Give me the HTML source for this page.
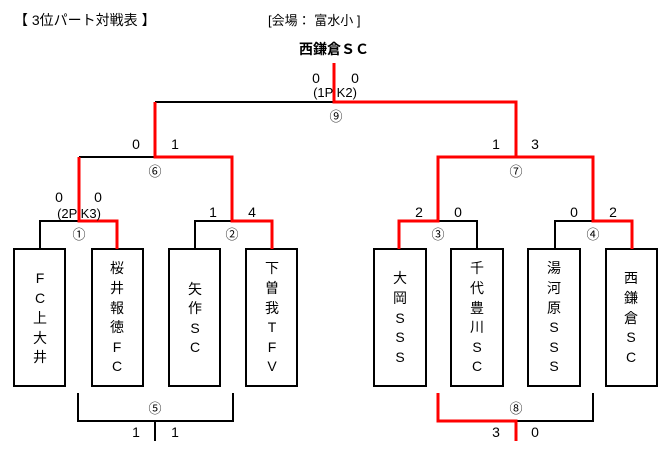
<!DOCTYPE html>
<html><head><meta charset="utf-8"><style>
html,body{margin:0;padding:0;background:#fff;}
svg{display:block;font-family:"Liberation Sans","Noto Sans CJK JP",sans-serif;}
text{fill:#000;}
.s{font-size:14px;text-anchor:middle;}
.c{font-size:13px;text-anchor:middle;}
.b{font-size:14px;text-anchor:middle;}
</style></head><body>
<svg width="669" height="456" viewBox="0 0 669 456" xmlns="http://www.w3.org/2000/svg">
<text x="14" y="25" font-size="14">【 3位パート対戦表 】</text>
<text x="268" y="25" font-size="13">[会場： 富水小 ]</text>
<text x="334" y="54" font-size="14" font-weight="bold" text-anchor="middle">西鎌倉ＳＣ</text>

<g fill="none" stroke="#000" stroke-width="2">
<path d="M155,102H334"/>
<path d="M79,157H155"/>
<path d="M438,157H516"/>
<path d="M40,249V221H79"/>
<path d="M195,249V221H232"/>
<path d="M438,221H477V249"/>
<path d="M555,249V221H593"/>
<path d="M78,393V421H233V393"/>
<path d="M155,421V441"/>
<path d="M516,421H593V393"/>
<rect x="14" y="249" width="51" height="137"/>
<rect x="92" y="249" width="51" height="137"/>
<rect x="169" y="249" width="51" height="137"/>
<rect x="246" y="249" width="51" height="137"/>
<rect x="374" y="249" width="52" height="137"/>
<rect x="451" y="249" width="52" height="137"/>
<rect x="528" y="249" width="52" height="137"/>
<rect x="606" y="249" width="51" height="137"/>
</g>
<g fill="none" stroke="#f00" stroke-width="3">
<path d="M334,63V102H516V157H593V221H632V249"/>
<path d="M155,102V157H232V221H272V249"/>
<path d="M79,157V221H117V249"/>
<path d="M516,157H438V221H399V249"/>
<path d="M438,393V421H516V441"/>
</g>

<text class="s" x="316" y="83">0</text><text class="s" x="355" y="83">0</text>
<text class="c" x="335" y="97" font-size="11">(1P K2)</text>
<text class="c" x="336" y="121">⑨</text>
<text class="s" x="136" y="149">0</text><text class="s" x="175" y="149">1</text>
<text class="c" x="155" y="176">⑥</text>
<text class="s" x="496" y="149">1</text><text class="s" x="535" y="149">3</text>
<text class="c" x="516" y="176">⑦</text>
<text class="s" x="59" y="202">0</text><text class="s" x="98" y="202">0</text>
<text class="c" x="79" y="218" font-size="11">(2P K3)</text>
<text class="s" x="213" y="217">1</text><text class="s" x="252" y="217">4</text>
<text class="s" x="419" y="217">2</text><text class="s" x="458" y="217">0</text>
<text class="s" x="574" y="217">0</text><text class="s" x="613" y="217">2</text>
<text class="c" x="79" y="239">①</text>
<text class="c" x="232" y="239">②</text>
<text class="c" x="438" y="239">③</text>
<text class="c" x="593" y="239">④</text>
<text class="c" x="155" y="413">⑤</text>
<text class="c" x="516" y="413">⑧</text>
<text class="s" x="136" y="437">1</text><text class="s" x="175" y="437">1</text>
<text class="s" x="496" y="437">3</text><text class="s" x="535" y="437">0</text>

<g class="b">
<text class="b" x="40" y="283">F</text><text class="b" x="40" y="303">C</text><text class="b" x="40" y="323">上</text><text class="b" x="40" y="343">大</text><text class="b" x="40" y="362">井</text>
<text class="b" x="117" y="273">桜</text><text class="b" x="117" y="293">井</text><text class="b" x="117" y="313">報</text><text class="b" x="117" y="332">徳</text><text class="b" x="117" y="352">F</text><text class="b" x="117" y="371">C</text>
<text class="b" x="195" y="294">矢</text><text class="b" x="195" y="313">作</text><text class="b" x="195" y="333">S</text><text class="b" x="195" y="352">C</text>
<text class="b" x="272" y="273">下</text><text class="b" x="272" y="293">曽</text><text class="b" x="272" y="313">我</text><text class="b" x="272" y="332">T</text><text class="b" x="272" y="352">F</text><text class="b" x="272" y="371">V</text>
<text class="b" x="400" y="283">大</text><text class="b" x="400" y="303">岡</text><text class="b" x="400" y="323">S</text><text class="b" x="400" y="342">S</text><text class="b" x="400" y="362">S</text>
<text class="b" x="477" y="273">千</text><text class="b" x="477" y="293">代</text><text class="b" x="477" y="313">豊</text><text class="b" x="477" y="332">川</text><text class="b" x="477" y="352">S</text><text class="b" x="477" y="371">C</text>
<text class="b" x="554" y="273">湯</text><text class="b" x="554" y="293">河</text><text class="b" x="554" y="313">原</text><text class="b" x="554" y="332">S</text><text class="b" x="554" y="352">S</text><text class="b" x="554" y="371">S</text>
<text class="b" x="631" y="283">西</text><text class="b" x="631" y="303">鎌</text><text class="b" x="631" y="323">倉</text><text class="b" x="631" y="342">S</text><text class="b" x="631" y="362">C</text>
</g>
</svg>
</body></html>
